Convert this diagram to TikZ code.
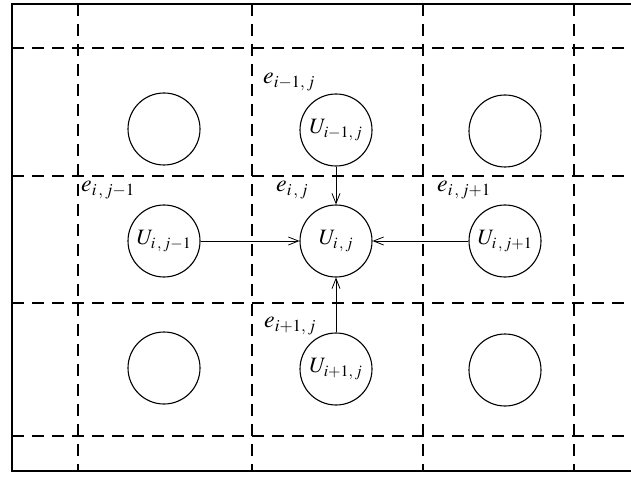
\documentclass[tikz,border=0pt]{standalone}
\usepackage{mathptmx}
\usetikzlibrary{arrows.meta}
% subscript set at an explicit size (for large, troff-like indices)
\newcommand\lowsub[2]{_{\hbox{\fontsize{#1}{#1}\selectfont$#2$}}}

\tikzset{
  gridline/.style={line width=1.1bp, dash pattern=on 12bp off 8bp},
  cell/.style={circle, draw, line width=1.1bp, minimum size=72bp, inner sep=0pt,
               font=\fontsize{22}{26}\selectfont},
  elabel/.style={anchor=west, inner sep=0pt, font=\fontsize{24}{28}\selectfont},
  flow/.style={line width=0.8bp, -{Straight Barb[length=10bp,width=8bp]}}
}

\begin{document}
\begin{tikzpicture}[x=1bp, y=-1bp]
  \useasboundingbox (0,0) rectangle (631,481);

  % outer frame (open on the right)
  \draw[line width=1.2bp] (631,4) -- (12,4) -- (12,471) -- (631,471);

  % dashed cell boundaries
  \foreach \x in {78,252,423,574}
    \draw[gridline] (\x,4) -- (\x,471);
  \foreach \y in {48,176,303,436}
    \draw[gridline] (12,\y) -- (631,\y);

  % cells
  \node[cell] (nw) at (164,129) {};
  \node[cell] (n)  at (336,130) {$U\lowsub{16}{i{-}1,j}$};
  \node[cell] (ne) at (505,131) {};
  \node[cell] (w)  at (164,241) {$U\lowsub{16}{i\,,j{-}1}$};
  \node[cell] (c)  at (336,241) {$U\lowsub{16}{i\,,j}$};
  \node[cell] (e)  at (505,241) {$U\lowsub{16}{i\,,j{+}1}$};
  \node[cell] (sw) at (164,368) {};
  \node[cell] (s)  at (336,369) {$U\lowsub{16}{i{+}1,j}$};
  \node[cell] (se) at (505,370) {};

  % error labels
  \node[elabel] (en) at (263,82)  {$e\lowsub{17}{i{-}1,j}$};
  \node[elabel] (ew) at (81,190)  {$e\lowsub{17}{i\,,j{-}1}$};
  \node[elabel] (ec) at (276,190) {$e\lowsub{17}{i\,,j}$};
  \node[elabel] (ee) at (437,190) {$e\lowsub{17}{i\,,j{+}1}$};
  \node[elabel] (es) at (264,326) {$e\lowsub{17}{i{+}1,j}$};

  % fluxes into the centre cell
  \draw[flow] (n) -- (c);
  \draw[flow] (w) -- (c);
  \draw[flow] (e) -- (c);
  \draw[flow] (s) -- (c);
\end{tikzpicture}
\end{document}
